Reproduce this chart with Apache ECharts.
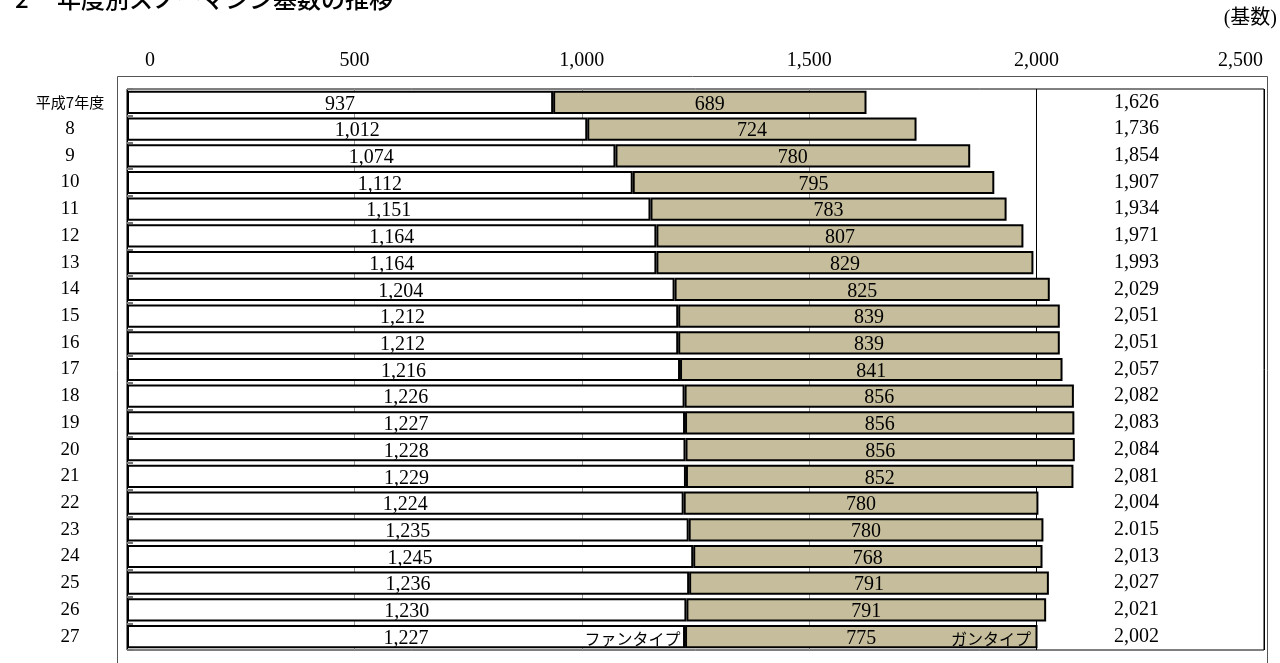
<!DOCTYPE html>
<html>
<head>
<meta charset="utf-8">
<script src="https://cdn.jsdelivr.net/npm/echarts@6/dist/echarts.min.js"></script>
<style>
html,body{margin:0;padding:0;background:#fff;}
#chart{width:1280px;height:663px;}
</style>
</head>
<body>
<div id="chart"></div>
<script>
const categories = ['平成7年度','8','9','10','11','12','13','14','15','16','17','18','19','20','21','22','23','24','25','26','27'];
const fanType = [937,1012,1074,1112,1151,1164,1164,1204,1212,1212,1216,1226,1227,1228,1229,1224,1235,1245,1236,1230,1227];
const gunType = [689,724,780,795,783,807,829,825,839,839,841,856,856,856,852,780,780,768,791,791,775];
const totalLabels = ['1,626','1,736','1,854','1,907','1,934','1,971','1,993','2,029','2,051','2,051','2,057','2,082','2,083','2,084','2,081','2,004','2.015','2,013','2,027','2,021','2,002'];
const xTicks = [0,500,1000,1500,2000,2500];
const seriesNames = ['ファンタイプ','ガンタイプ'];

const SERIF = '"Liberation Serif", "Noto Sans CJK JP", serif';
const JP = '"Noto Sans CJK JP", sans-serif';
const fmt = v => Number(v).toLocaleString('en-US');
const last = categories.length - 1;

const chart = echarts.init(document.getElementById('chart'));
chart.setOption({
  animation: false,
  backgroundColor: '#fff',
  graphic: [
    {type:'rect', z:-10, shape:{x:117.5, y:76.5, width:1150, height:640}, style:{fill:'none', stroke:'#555', lineWidth:1}},
    {type:'text', x:15, y:11, style:{text:'2', font:'500 24px "Noto Sans CJK JP"', fill:'#000', textVerticalAlign:'bottom'}},
    {type:'text', x:57, y:11, style:{text:'年度別スノーマシン基数の推移', font:'500 24px "Noto Sans CJK JP"', fill:'#000', textVerticalAlign:'bottom'}},
    {type:'text', x:1277, y:19, style:{text:'(基数)', font:'20px "Liberation Serif", "Noto Sans CJK JP"', fill:'#000', textAlign:'right', textVerticalAlign:'middle'}}
  ],
  grid: {left:127, right:16, top:89, bottom:13, show:true, borderColor:'#000', borderWidth:1, backgroundColor:'transparent'},
  xAxis: {
    type:'value', position:'top', min:xTicks[0], max:xTicks[xTicks.length-1], interval:xTicks[1]-xTicks[0],
    axisLine:{show:false}, axisTick:{show:false},
    splitLine:{show:true, lineStyle:{color:['#000','#999','#999','#999','#000','#000'], width:1}},
    axisLabel:{
      margin:16, color:'#000', fontFamily:SERIF, fontSize:20, alignMaxLabel:'right',
      backgroundColor:'#fff', padding:[0,1,2,1],
      formatter: v => v === 0 ? '{z|0}' : fmt(v),
      rich:{z:{fontFamily:SERIF, fontSize:20, color:'#000', padding:[0,0,0,46]}}
    }
  },
  yAxis: [
    {
      type:'category', data:categories, inverse:true,
      axisLine:{show:true, lineStyle:{color:'#000', width:1}},
      axisTick:{show:true, inside:true, length:6, lineStyle:{color:'#777', width:2}},
      axisLabel:{
        margin:57, align:'center', color:'#000', fontFamily:SERIF, fontSize:19,
        formatter: (v, i) => i === 0 ? '{jp|' + v + '}' : v,
        rich:{jp:{fontFamily:JP, fontSize:15, color:'#000'}}
      }
    },
    {
      type:'category', data:totalLabels, inverse:true, position:'right',
      axisLine:{show:false}, axisTick:{show:false}, splitLine:{show:false},
      axisLabel:{inside:true, margin:150, align:'left', color:'#000', fontFamily:SERIF, fontSize:20}
    }
  ],
  series: [
    {
      name:seriesNames[0], type:'bar', stack:'t', data:fanType, yAxisIndex:0, barCategoryGap:'13%',
      itemStyle:{color:'#fff', borderColor:'#000', borderWidth:2},
      label:{show:true, position:'inside', offset:[0,2], color:'#000', fontFamily:SERIF, fontSize:20, formatter:p => fmt(p.value)},
      markPoint:{
        symbol:'rect', symbolSize:1, itemStyle:{color:'rgba(0,0,0,0)'},
        label:{show:true, position:'left', distance:4, offset:[0,2], color:'#000', fontFamily:JP, fontSize:16, formatter:seriesNames[0]},
        data:[{coord:[fanType[last], last]}]
      }
    },
    {
      name:seriesNames[1], type:'bar', stack:'t', data:gunType, yAxisIndex:0,
      itemStyle:{color:'#C5BD9B', borderColor:'#000', borderWidth:2},
      label:{show:true, position:'inside', offset:[0,2], color:'#000', fontFamily:SERIF, fontSize:20, formatter:p => fmt(p.value)},
      markPoint:{
        symbol:'rect', symbolSize:1, itemStyle:{color:'rgba(0,0,0,0)'},
        label:{show:true, position:'left', distance:6, offset:[0,2], color:'#000', fontFamily:JP, fontSize:16, formatter:seriesNames[1]},
        data:[{coord:[fanType[last] + gunType[last], last]}]
      }
    }
  ]
});
</script>
</body>
</html>
